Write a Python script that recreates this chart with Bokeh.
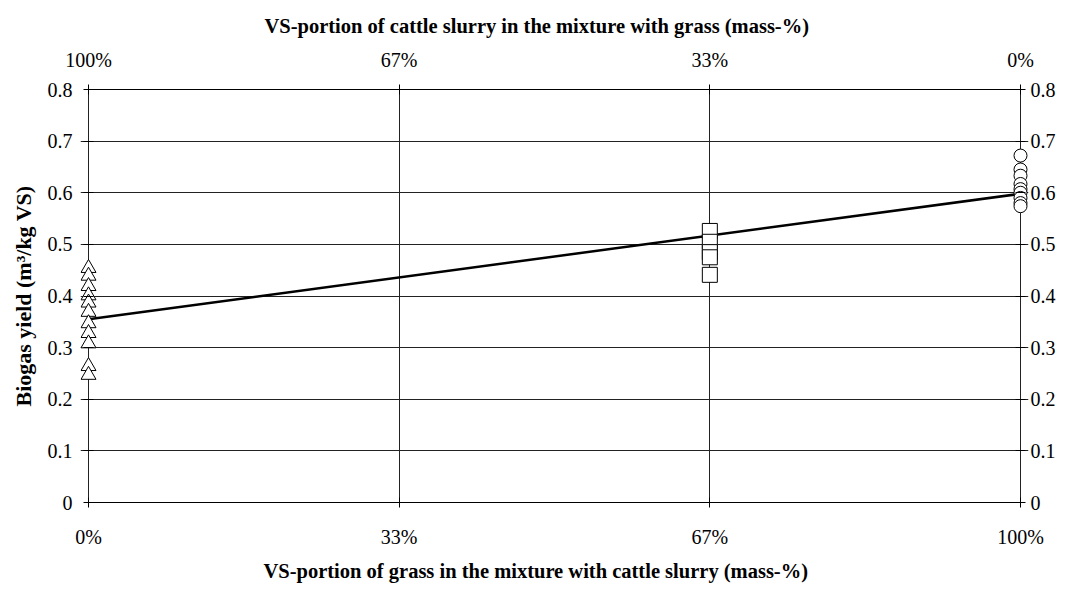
from bokeh.plotting import figure
from bokeh.models import Range1d, LinearAxis, FixedTicker, CustomJSTickFormatter, Grid, Title
from bokeh.embed import file_html
from bokeh.resources import INLINE

# ---- data ----
x_tick_pos = [0, 1/3, 2/3, 1]
bottom_labels = ["0%", "33%", "67%", "100%"]
top_labels = ["100%", "67%", "33%", "0%"]
y_tick_pos = [0, 0.1, 0.2, 0.3, 0.4, 0.5, 0.6, 0.7, 0.8]
y_labels = ["0", "0.1", "0.2", "0.3", "0.4", "0.5", "0.6", "0.7", "0.8"]

slurry_share = 0.0
slurry_yield = [0.454, 0.439, 0.419, 0.401, 0.387, 0.369, 0.347, 0.328, 0.308, 0.264, 0.247]
mix_share = 2/3
mix_yield = [0.526, 0.505, 0.485, 0.475, 0.441]
grass_share = 1.0
grass_yield = [0.672, 0.645, 0.633, 0.617, 0.607, 0.60, 0.59, 0.58, 0.574]

fit_share = [0.0, 1.0]
fit_yield = [0.355, 0.598]

top_title = "VS-portion of cattle slurry in the mixture with grass (mass-%)"
bottom_title = "VS-portion of grass in the mixture with cattle slurry (mass-%)"
y_title = "Biogas yield (m³/kg VS)"

FONT = "Liberation Serif"
PAD_PX = 8
PAD = PAD_PX / 932  # room so edge markers are not clipped

p = figure(width=1060, height=588, output_backend="svg", toolbar_location=None,
           x_range=Range1d(-PAD, 1 + PAD), y_range=Range1d(0, 0.8),
           x_axis_location=None, y_axis_location=None,
           min_border_left=80, min_border_right=32, min_border_top=89, min_border_bottom=85)
p.outline_line_color = None
p.background_fill_color = "white"
p.xgrid.visible = False
p.ygrid.visible = False


def fmt(tpos, labs):
    return CustomJSTickFormatter(args=dict(tpos=tpos, labs=labs), code="""
        let best = 0, d = 1e9;
        for (let i = 0; i < tpos.length; i++) {
            const dd = Math.abs(tpos[i] - tick);
            if (dd < d) { d = dd; best = i; }
        }
        return labs[best];
    """)


def style(ax, standoff, lab_standoff=0, lab_size="20px"):
    ax.axis_line_color = "black"
    ax.axis_line_width = 1
    ax.major_tick_line_color = "black"
    ax.major_tick_in = 5
    ax.major_tick_out = 5
    ax.minor_tick_line_color = None
    ax.minor_tick_out = 0
    ax.minor_tick_in = 0
    ax.major_label_text_font = FONT
    ax.major_label_text_font_size = "20px"
    ax.major_label_text_color = "black"
    ax.major_label_standoff = standoff
    ax.axis_label_text_font = FONT
    ax.axis_label_text_font_size = lab_size
    ax.axis_label_text_font_style = "bold"
    ax.axis_label_text_color = "black"
    ax.axis_label_standoff = lab_standoff


bottom = LinearAxis(ticker=FixedTicker(ticks=x_tick_pos), formatter=fmt(x_tick_pos, bottom_labels),
                    bounds=(0, 1))
style(bottom, 18)
p.add_layout(bottom, "below")

top = LinearAxis(ticker=FixedTicker(ticks=x_tick_pos), formatter=fmt(x_tick_pos, top_labels),
                 bounds=(0, 1))
style(top, 14)
p.add_layout(top, "above")

# y axes sit on the padded frame edge; ticks shifted so they cross x=0 / x=1
left = LinearAxis(ticker=FixedTicker(ticks=y_tick_pos), formatter=fmt(y_tick_pos, y_labels),
                  axis_label=y_title)
style(left, 8, 9, "22px")
left.axis_line_color = None
left.major_tick_out = 5 - PAD_PX
left.major_tick_in = 5 + PAD_PX
p.add_layout(left, "left")

right = LinearAxis(ticker=FixedTicker(ticks=y_tick_pos), formatter=fmt(y_tick_pos, y_labels))
style(right, 2)
right.axis_line_color = None
right.major_tick_out = 5 - PAD_PX
right.major_tick_in = 5 + PAD_PX
p.add_layout(right, "right")

p.add_layout(Title(text=top_title, align="left", offset=184, standoff=17,
                   text_font=FONT, text_font_size="20.5px", text_font_style="bold",
                   text_color="black"), "above")
p.add_layout(Title(text=bottom_title, align="left", offset=183, standoff=14,
                   text_font=FONT, text_font_size="20.5px", text_font_style="bold",
                   text_color="black"), "below")

# grid (x grid at 0 and 1 also forms the vertical axis lines)
p.add_layout(Grid(dimension=0, ticker=FixedTicker(ticks=x_tick_pos), bounds=(0, 0.8),
                  grid_line_color="#222222", grid_line_width=1))
p.add_layout(Grid(dimension=1, ticker=FixedTicker(ticks=y_tick_pos), bounds=(0, 1),
                  grid_line_color="#222222", grid_line_width=1))

p.line(fit_share, fit_yield, line_color="black", line_width=2.5)

p.scatter([slurry_share] * len(slurry_yield), slurry_yield, marker="triangle", size=15,
          fill_color="white", line_color="black", line_width=1)
p.scatter([mix_share] * len(mix_yield), mix_yield, marker="square", size=15,
          fill_color="white", line_color="black", line_width=1)
p.scatter([grass_share] * len(grass_yield), grass_yield, marker="circle", size=13,
          fill_color="white", line_color="black", line_width=1)

open("out.html", "w").write(file_html(p, INLINE))
